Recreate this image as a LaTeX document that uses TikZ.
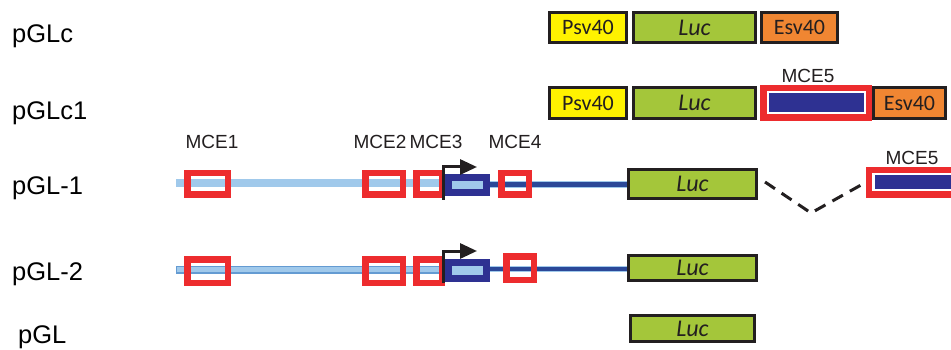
\documentclass[tikz,border=0pt]{standalone}
\usepackage{fontspec}
\setmainfont{Liberation Sans}
\newfontfamily\boxfont{Carlito}
\usetikzlibrary{arrows.meta}

\definecolor{gyellow}{RGB}{255,242,0}
\definecolor{ggreen}{RGB}{164,198,58}
\definecolor{gorange}{RGB}{240,134,50}
\definecolor{gred}{RGB}{237,44,46}
\definecolor{gnavy}{RGB}{46,49,146}
\definecolor{glight}{RGB}{160,201,235}
\definecolor{gedge}{RGB}{100,155,210}
\definecolor{gline}{RGB}{43,72,152}
\definecolor{gink}{RGB}{35,31,32}

\tikzset{
  x=1pt, y=-1pt,
  rowlabel/.style={anchor=base west, inner sep=0pt, font=\fontsize{25.5}{30}\selectfont},
  mcelabel/.style={anchor=base, inner sep=0pt, font=\fontsize{19}{22}\selectfont, text=gink},
  part/.style={draw=gink, line width=3pt, inner sep=0pt, text=gink,
    font=\boxfont\fontsize{22}{26}\selectfont},
  psv/.style={part, fill=gyellow},
  esv/.style={part, fill=gorange},
  luc/.style={part, fill=ggreen, font=\boxfont\itshape\fontsize{24}{28}\selectfont},
  mce/.style={draw=gred, line width=6.5pt, inner sep=0pt},
  mcefive/.style={draw=gred, line width=6.5pt, fill=white, inner sep=0pt},
  navybar/.style={fill=gnavy, inner sep=0pt},
  exon/.style={fill=gnavy, inner sep=0pt},
  exoninner/.style={fill=glight, inner sep=0pt},
  upstream/.style={glight, line width=8pt},
  downstream/.style={gline, line width=4.5pt},
  tss/.style={gink, line width=3pt, -{Triangle[length=17pt,width=15pt]}},
  splice/.style={gink, line width=3pt, dash pattern=on 12pt off 8pt}
}

\begin{document}
\begin{tikzpicture}
\useasboundingbox[fill=white] (0,0) rectangle (951,350);

% construct names
\node[rowlabel] (lc)  at (12,43)  {pGLc};
\node[rowlabel] (lc1) at (12,120) {pGLc1};
\node[rowlabel] (l1)  at (12,195) {pGL-1};
\node[rowlabel] (l2)  at (12,280) {pGL-2};
\node[rowlabel] (l0)  at (18,343) {pGL};

% pGLc
\node[psv, minimum width=77pt, minimum height=30pt] (c-psv) at (588,27.5) {Psv40};
\node[luc, minimum width=122pt, minimum height=30pt] (c-luc) at (694.5,27.5) {Luc};
\node[esv, minimum width=76pt, minimum height=30pt] (c-esv) at (799.5,27.5) {Esv40};

% pGLc1
\node[psv, minimum width=77pt, minimum height=31pt] (c1-psv) at (588,103) {Psv40};
\node[luc, minimum width=122pt, minimum height=31pt] (c1-luc) at (694.5,103) {Luc};
\node[mcefive, minimum width=105.5pt, minimum height=29.5pt] (c1-mce5) at (816,103) {};
\node[navybar, minimum width=95pt, minimum height=19pt] (c1-bar) at (816,103) {};
\node[esv, minimum width=72pt, minimum height=31pt] (c1-esv) at (909.5,103) {Esv40};
\node[mcelabel] (c1-mce5l) at (808,83) {MCE5};

% pGL-1
\coordinate (a-start) at (176,183);
\node[exon, minimum width=45pt, minimum height=22pt] (a-exon) at (467.5,185) {};
\node[exoninner, minimum width=31pt, minimum height=8pt] (a-exin) at (467.5,185) {};
\node[luc, minimum width=128pt, minimum height=29pt] (a-luc) at (692.5,184) {Luc};
\draw[upstream] (a-start) -- (a-start -| a-exon.west);
\draw[glight, line width=6.5pt] (a-exon.east |- 0,184.5) -- (a-luc.west |- 0,184.5);
\draw[downstream] (a-exon.east |- 0,184.5) -- (a-luc.west |- 0,184.5);
\node[mce, minimum width=40.5pt, minimum height=21.5pt] (a-m1) at (207.5,184) {};
\node[mce, minimum width=37.5pt, minimum height=21.5pt] (a-m2) at (384,184) {};
\node[mce, minimum width=25.5pt, minimum height=21.5pt] (a-m3) at (429,184) {};
\node[mce, minimum width=27.5pt, minimum height=21.5pt] (a-m4) at (515,184) {};
\coordinate (a-tss) at (443,200);
\coordinate (a-tip) at (477,167);
\draw[tss] (a-tss) |- (a-tip);
\node[mcelabel] (a-m1l) at (212,149) {MCE1};
\node[mcelabel] (a-m2l) at (380,149) {MCE2};
\node[mcelabel] (a-m3l) at (436,149) {MCE3};
\node[mcelabel] (a-m4l) at (515,149) {MCE4};
% downstream MCE5 running off the edge
\begin{scope}
  \clip (0,0) rectangle (951,350);
  \node[mcefive, minimum width=106.5pt, minimum height=24.5pt] (a-mce5) at (922,182.5) {};
  \node[navybar, minimum width=100pt, minimum height=14pt] (a-bar) at (925,182) {};
\end{scope}
\coordinate (a-dip) at (811,213);
\draw[splice] (a-luc.east |- 0,182) ++(7,0) coordinate (a-sp) -- (a-dip) -- (a-mce5.west);
\node[mcelabel] (a-m5l) at (912,165) {MCE5};

% pGL-2
\coordinate (b-start) at (176,269.5);
\node[exon, minimum width=45pt, minimum height=23pt] (b-exon) at (467.5,270.5) {};
\node[exoninner, minimum width=31pt, minimum height=9pt] (b-exin) at (467.5,270.5) {};
\node[luc, minimum width=128pt, minimum height=25pt] (b-luc) at (692.5,267.5) {Luc};
\draw[gedge, line width=8pt] (b-start) -- (b-start -| b-exon.west);
\draw[glight, line width=5.5pt] ([xshift=1pt]b-start) -- (b-start -| b-exon.west);
\draw[glight, line width=6.5pt] (b-exon.east |- 0,269) -- (b-luc.west |- 0,269);
\draw[downstream] (b-exon.east |- 0,269) -- (b-luc.west |- 0,269);
\node[mce, minimum width=40.5pt, minimum height=23.5pt] (b-m1) at (207.5,271) {};
\node[mce, minimum width=37.5pt, minimum height=23.5pt] (b-m2) at (384,271) {};
\node[mce, minimum width=25.5pt, minimum height=23.5pt] (b-m3) at (429,271) {};
\node[mce, minimum width=27.5pt, minimum height=23.5pt] (b-m4) at (520,268) {};
\coordinate (b-tss) at (443,283);
\coordinate (b-tip) at (477,251);
\draw[tss] (b-tss) |- (b-tip);

% pGL
\node[luc, minimum width=124pt, minimum height=26pt] (p-luc) at (692.5,328.5) {Luc};
\end{tikzpicture}
\end{document}
